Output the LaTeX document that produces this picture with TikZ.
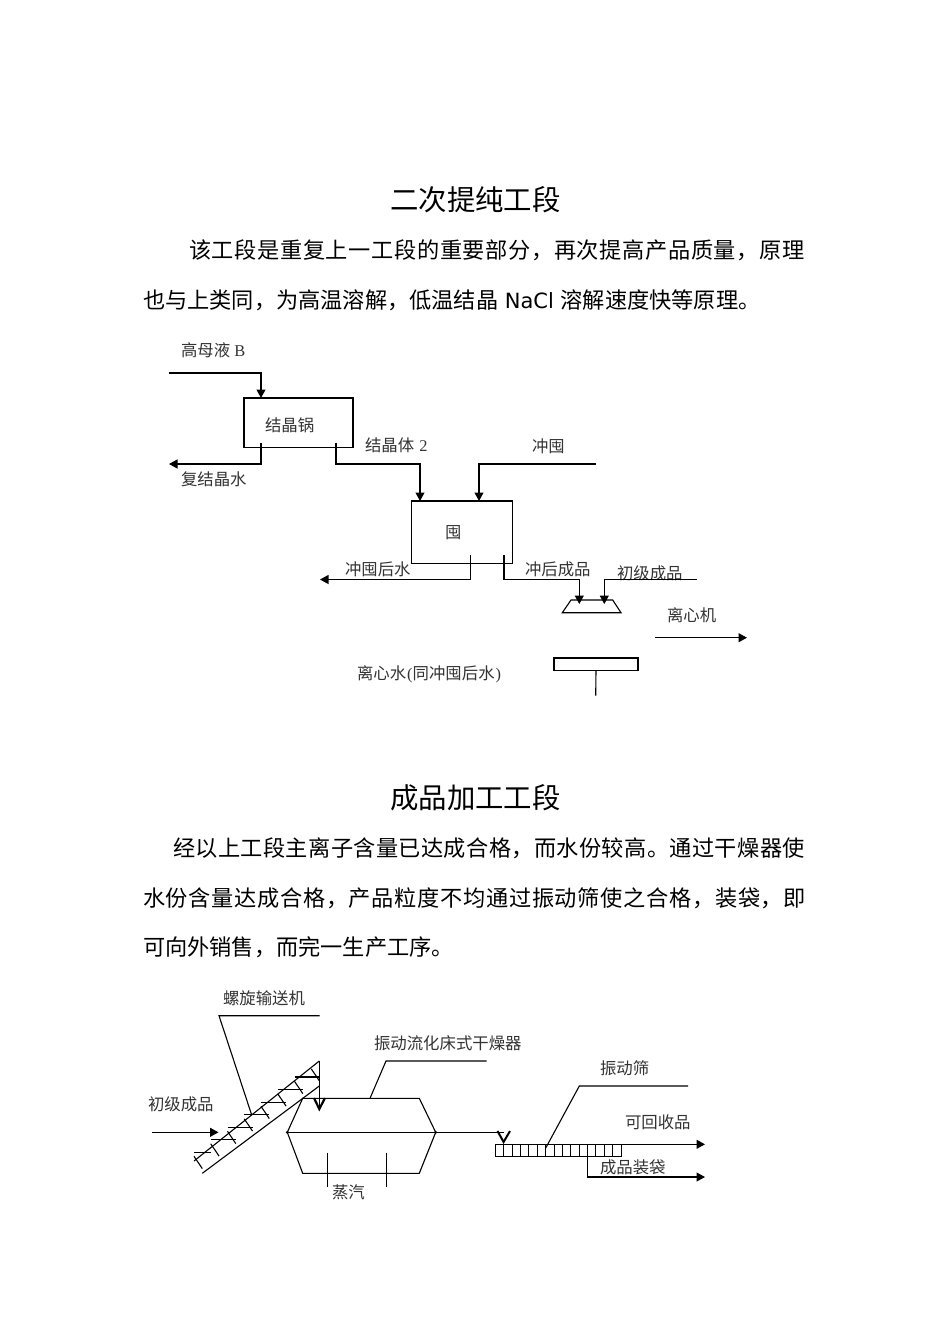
\documentclass[tikz,border=0pt]{standalone}
\usepackage{fontspec}
\usetikzlibrary{arrows.meta}
\setmainfont{Noto Sans CJK SC}
\newfontfamily\bodyfont{Noto Sans CJK SC}
\newfontfamily\bodyjustA[LetterSpace=2.8]{Noto Sans CJK SC}
\newfontfamily\bodyjustB[LetterSpace=1.7]{Noto Sans CJK SC}
\newfontfamily\bodyjustC[LetterSpace=3.1]{Noto Sans CJK SC}
\newfontfamily\latinbody{DejaVu Sans}
\newfontfamily\labelfont{Noto Sans CJK SC}
\newfontfamily\latinlabel{Liberation Serif}
\tikzset{
  every node/.style={inner sep=0pt,outer sep=0pt},
  titletext/.style={anchor=center,font=\bodyfont\fontsize{28.4}{30}\selectfont},
  bodyline/.style={anchor=west,font=\bodyfont\fontsize{22.2}{24}\selectfont},
  justA/.style={anchor=west,font=\bodyjustA\fontsize{22.2}{24}\selectfont},
  justB/.style={anchor=west,font=\bodyjustB\fontsize{22.2}{24}\selectfont},
  justC/.style={anchor=west,font=\bodyjustC\fontsize{22.2}{24}\selectfont},
  lbl/.style={anchor=west,text=black!80,font=\labelfont\fontsize{16.4}{18}\selectfont},
  line/.style={draw=black,line width=1.1pt},
  flow/.style={line,-{Triangle[length=8.5pt,width=9pt]}},
  boxnode/.style={draw=black,line width=1.1pt,rectangle,anchor=north west},
  thin line/.style={draw=black,line width=1.1pt}
}
\begin{document}
\begin{tikzpicture}[x=1pt,y=-1pt]
\useasboundingbox[fill=white] (0,0) rectangle (950,1344);

% ---- text ----
\node[titletext] (t1) at (475.5,200) {二次提纯工段};
\node[justA] (p1) at (189,250) {该工段是重复上一工段的重要部分，再次提高产品质量，原理};
\node[bodyline] (p2) at (143,300) {也与上类同，为高温溶解，低温结晶{\latinbody\fontsize{21}{24}\selectfont\ NaCl\ }溶解速度快等原理。};
\node[titletext] (t2) at (475.5,798) {成品加工工段};
\node[justB] (p3) at (173,848) {经以上工段主离子含量已达成合格，而水份较高。通过干燥器使};
\node[justC] (p4) at (143,898) {水份含量达成合格，产品粒度不均通过振动筛使之合格，装袋，即};
\node[bodyline] (p5) at (143,947) {可向外销售，而完一生产工序。};

% ---- section 1 ----
\node[boxnode,minimum width=109pt,minimum height=49.5pt] (pot) at (244,398) {};
\node[lbl] (lpot) at (265,425) {结晶锅};
\node[boxnode,minimum width=100.6pt,minimum height=62.3pt] (tun) at (411.7,501) {};
\node[lbl] (ltun) at (445,533) {囤};
\node[lbl] (lb) at (181,350) {高母液{\latinlabel\ B}};
\node[lbl] (lfj) at (181,479) {复结晶水};
\node[lbl] (ljt) at (365,445) {结晶体{\latinlabel\ \hspace{1pt}2}};
\node[lbl] (lct) at (532,446) {冲囤};
\node[lbl] (lcth) at (345,569) {冲囤后水};
\node[lbl] (lchcp) at (525,569) {冲后成品};
\node[lbl] (lcj) at (617,573) {初级成品};
\node[lbl] (llxj) at (667,615) {离心机};
\node[lbl] (llxs) at (357,674) {离心水{\latinlabel\hspace{1pt}(}同冲囤后水{\latinlabel\hspace{1pt})}};

\coordinate (b0) at (168.5,373);
\coordinate (b1) at (261,373);
\coordinate (b2) at (261,398);
\draw[flow] (b0) -- (b1) -- (b2);
\coordinate (f0) at (261,442.5);
\coordinate (f1) at (261,464);
\coordinate (f2) at (169,464);
\draw[flow] (f0) -- (f1) -- (f2);
\coordinate (j0) at (336,442.5);
\coordinate (j1) at (336,464);
\coordinate (j2) at (420,464);
\coordinate (j3) at (420,501);
\draw[flow] (j0) -- (j1) -- (j2) -- (j3);
\coordinate (c0) at (596,464);
\coordinate (c1) at (479,464);
\coordinate (c2) at (479,501);
\draw[flow] (c0) -- (c1) -- (c2);
\coordinate (h0) at (470.3,555);
\coordinate (h1) at (470.3,579.5);
\coordinate (h2) at (320,579.5);
\draw[flow] (h0) -- (h1) -- (h2);
\coordinate (k0) at (504,555);
\coordinate (k1) at (504,579.5);
\coordinate (k2) at (579.3,579.5);
\coordinate (k3) at (579.3,604);
\draw[flow] (k0) -- (k1) -- (k2) -- (k3);
\coordinate (m0) at (696.7,579.5);
\coordinate (m1) at (604.3,579.5);
\coordinate (m2) at (604.3,604);
\draw[flow] (m0) -- (m1) -- (m2);
\draw[line] (571,600) -- (612.7,600) -- (621,612.7) -- (562.3,612.7) -- cycle;
\coordinate (x0) at (655,637.7);
\coordinate (x1) at (747,637.7);
\draw[flow] (x0) -- (x1);
\node[boxnode,minimum width=84pt,minimum height=12.7pt] (bar) at (554,658) {};
\coordinate (s0) at (595.7,695.7);
\draw[line] (bar.south) -- (s0);

% ---- section 2 ----
\node[lbl] (lspiral) at (223,998) {螺旋输送机};
\node[lbl] (ldryer) at (374,1043) {振动流化床式干燥器};
\node[lbl] (lscreen) at (600,1068) {振动筛};
\node[lbl] (lcjb) at (148,1104) {初级成品};
\node[lbl] (lkh) at (625,1122) {可回收品};
\node[lbl] (lbag) at (600,1167) {成品装袋};
\node[lbl] (lsteam) at (332,1192) {蒸汽};

\coordinate (sp0) at (319.5,1015.7);
\coordinate (sp1) at (219,1015.7);
\coordinate (sp2) at (251.7,1115);
\draw[thin line] (sp0) -- (sp1) -- (sp2);
% conveyor
\coordinate (cu0) at (194,1161);
\coordinate (ct) at (319.3,1061);
\coordinate (cl0) at (202.3,1173.3);
\coordinate (cl1) at (319.3,1086);
\coordinate (cb) at (319.3,1109);
\draw[thin line] (cu0) -- (ct);
\draw[thin line] (cl0) -- (cl1);
\draw[thin line] (ct) -- (cb);
\draw[line width=2.2pt] (314,1098) -- (cb) -- (325,1098);
\foreach \i in {0,...,7}{
  \pgfmathsetmacro{\tx}{194+16.75*\i}
  \pgfmathsetmacro{\ty}{1156.3-12.5*\i}
  \draw[thin line] (\tx,\ty) -- (\tx+8.3,\ty+12.3);
}
\draw[thin line] (194,1152.3) -- (210.7,1152.3);
\foreach \k in {1,...,6}{
  \pgfmathsetmacro{\bx}{194+16.75*\k}
  \pgfmathsetmacro{\by}{1152.3-12.55*\k}
  \draw[thin line] (\bx,\by) -- (\bx+25,\by);
}
\coordinate (in0) at (152,1132.3);
\coordinate (in1) at (218.5,1132.3);
\draw[flow] (in0) -- (in1);
% dryer
\coordinate (dl) at (287.3,1132.3);
\coordinate (dr) at (435.7,1132.3);
\coordinate (dtl) at (302.7,1098.3);
\coordinate (dtr) at (419.3,1098.3);
\coordinate (dbl) at (302.7,1173.3);
\coordinate (dbr) at (419.3,1173.3);
\draw[thin line] (dl) -- (dtl) -- (dtr) -- (dr) -- (dbr) -- (dbl) -- cycle;
\coordinate (d2) at (503.6,1132.3);
\draw[thin line] (dl) -- (dr) -- (d2);
\fill (dl) circle (1.6pt) (dr) circle (1.6pt);
\draw[line width=2pt] (497.5,1131) -- (503.6,1142) -- (510,1131);
\coordinate (dy0) at (486.7,1061);
\coordinate (dy1) at (386,1061);
\coordinate (dy2) at (370,1098.3);
\draw[thin line] (dy0) -- (dy1) -- (dy2);
\coordinate (v1a) at (327.7,1152.7);
\coordinate (v1b) at (327.7,1186.7);
\coordinate (v2a) at (386.7,1152.7);
\coordinate (v2b) at (386.7,1186.7);
\draw[thin line] (v1a) -- (v1b);
\draw[thin line] (v2a) -- (v2b);
% screen
\node[draw=black,line width=1pt,anchor=north west,minimum width=125.7pt,minimum height=12pt] (scr) at (495.3,1144.3) {};
\foreach \n in {1,...,14}{
  \pgfmathsetmacro{\sx}{495.3+8.38*\n}
  \draw[line width=.9pt] (\sx,1144.3) -- (\sx,1156.3);
}
\coordinate (o0) at (621,1144.3);
\coordinate (o1) at (705,1144.3);
\draw[flow] (o0) -- (o1);
\coordinate (q0) at (587.3,1156.3);
\coordinate (q1) at (587.3,1177);
\coordinate (q2) at (705,1177);
\draw[flow] (q0) -- (q1) -- (q2);
\coordinate (r0) at (688,1086);
\coordinate (r1) at (579.3,1086);
\coordinate (r2) at (545.7,1148);
\draw[thin line] (r0) -- (r1) -- (r2);
\end{tikzpicture}
\end{document}
